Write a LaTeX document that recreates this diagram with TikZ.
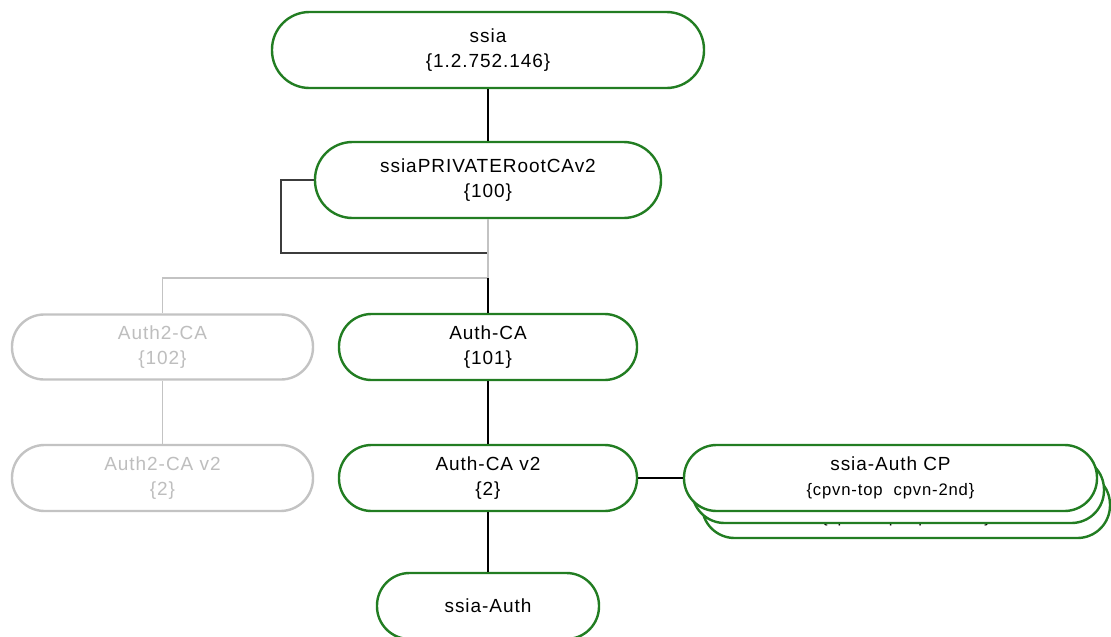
\documentclass[tikz,border=0pt]{standalone}
\usepackage{fontspec}
\setmainfont[LetterSpace=5]{Liberation Sans}
\definecolor{boxgreen}{RGB}{34,125,34}
\definecolor{lightline}{RGB}{195,195,195}
\definecolor{lighttext}{RGB}{190,190,190}
\definecolor{darkline}{RGB}{60,60,60}
\begin{document}
\begin{tikzpicture}[x=0.75pt,y=-0.75pt,
  lbl/.style={font=\fontsize{14.25}{18.5}\selectfont, align=center, inner sep=0pt},
  gbox/.style 2 args={lbl, draw=boxgreen, line width=1.8pt, fill=white, text=black,
    minimum width=#1*0.75pt, minimum height=#2*0.75pt, rounded corners=#2*0.37pt},
  pbox/.style 2 args={lbl, draw=lightline, line width=1.8pt, fill=white, text=lighttext,
    minimum width=#1*0.75pt, minimum height=#2*0.75pt, rounded corners=#2*0.37pt},
  conn/.style={draw=black, line width=1.1pt},
  connl/.style={draw=lightline, line width=1.1pt},
  connd/.style={draw=darkline, line width=1.1pt}
]
\useasboundingbox (0,0) rectangle (1111,636);

\node[gbox={432}{76}] (ssia) at (488,50) {ssia\\\{1.2.752.146\}};
\node[gbox={346}{76}] (priv) at (488,180) {ssiaPRIVATERootCAv2\\\{100\}};
\node[pbox={301}{65}] (auth2) at (162.5,347) {Auth2-CA\\\{102\}};
\node[gbox={298}{66}] (authca) at (488,347) {Auth-CA\\\{101\}};
\node[pbox={301}{66}] (auth2v2) at (162.5,478) {Auth2-CA v2\\\{2\}};
\node[gbox={298}{66}] (authv2) at (488,478) {Auth-CA v2\\\{2\}};

\node[gbox={408}{66}] (cp3) at (906,505) {ssia-Auth CP\\{\fontsize{12.5}{18.5}\selectfont\{cpvn-top\ \ cpvn-2nd\}}};
\node[gbox={412}{66}] (cp2) at (898,490) {ssia-Auth CP\\{\fontsize{12.5}{18.5}\selectfont\{cpvn-top\ \ cpvn-2nd\}}};
\node[gbox={413}{66}] (cp1) at (890.5,478) {ssia-Auth CP\\{\fontsize{12.5}{18.5}\selectfont\{cpvn-top\ \ cpvn-2nd\}}};

\node[gbox={222}{66}] (sauth) at (488,606) {ssia-Auth};

\coordinate (j) at (488,278);
\coordinate (loopc) at (281,253);
\coordinate (loope) at (488,253);

\draw[conn] (ssia.south) -- (priv.north);
\draw[connd] (priv.west) -| (loopc) -- (loope);
\draw[connl] (priv.south) -- (j);
\draw[connl] (j) -| (auth2.north);
\draw[conn] (j) -- (authca.north);
\draw[connl] (auth2.south) -- (auth2v2.north);
\draw[conn] (authca.south) -- (authv2.north);
\draw[conn] (authv2.east) -- (cp1.west);
\draw[conn] (authv2.south) -- (sauth.north);
\end{tikzpicture}
\end{document}
